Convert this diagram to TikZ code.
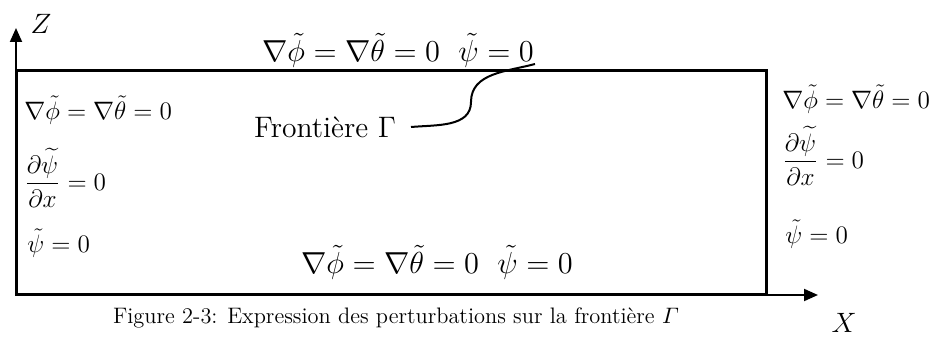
\documentclass[tikz,border=0pt]{standalone}
\usepackage{fix-cm}
\usepackage{amsmath}
\usepackage{fontspec}
\usetikzlibrary{arrows.meta}

\tikzset{
  border/.style={line width=1.5pt},
  axis/.style={line width=1pt, -{Triangle[length=7pt,width=6pt]}},
  bigeq/.style={font=\fontsize{15.2}{18}\selectfont},
  sideeq/.style={font=\fontsize{12.6}{15}\selectfont, anchor=west, inner sep=0pt},
  lbl/.style={font=\fontsize{14}{16}\selectfont}
}

\begin{document}
\begin{tikzpicture}[line cap=butt, line join=miter, >=Stealth, x=0.5pt,y=0.5pt]
  \useasboundingbox (0,0) rectangle (939,338);
  % domain
  \draw[border] (16,43) rectangle (766,267);
  \coordinate (O) at (16,43);
  \coordinate (xend) at (818,43);
  \coordinate (zend) at (16,310);
  \draw[axis] (766,43) -- (xend);
  \draw[axis] (16,267) -- (zend);
  \node[lbl] (zlab) at (41,314) {$Z$};
  \node[lbl] (xlab) at (844,15) {$X$};

  % conditions on top and bottom
  \node[bigeq] (top) at (398,288) {$\nabla\tilde{\phi} = \nabla\tilde{\theta} = 0\ \ \tilde{\psi} = 0$};
  \node[bigeq] (bot) at (437,76) {$\nabla\tilde{\phi} = \nabla\tilde{\theta} = 0\ \ \tilde{\psi} = 0$};

  % left side
  \node[sideeq] (l1) at (24,228) {$\nabla\tilde{\phi} = \nabla\tilde{\theta} = 0$};
  \node[sideeq] (l2) at (24,160) {$\dfrac{\partial\widetilde{\psi}}{\partial x} = 0$};
  \node[sideeq] (l3) at (27,95) {$\tilde{\psi} = 0$};

  % right side
  \node[sideeq] (r1) at (782,239) {$\nabla\tilde{\phi} = \nabla\tilde{\theta} = 0$};
  \node[sideeq] (r2) at (782,182) {$\dfrac{\partial\widetilde{\psi}}{\partial x} = 0$};
  \node[sideeq] (r3) at (785,104) {$\tilde{\psi} = 0$};

  % boundary label
  \node[font=\fontsize{14.8}{17}\selectfont, anchor=east] (gam) at (403,211) {Fronti\`ere $\Gamma$};
  \coordinate (gend) at (535,274);
  \draw[line width=1pt] (gam.east) ++(8,0) coordinate (gstart)
    to[out=5,in=-90] (471,236) to[out=90,in=195] (gend);

  \node[font=\fontsize{11.2}{13}\selectfont] (cap) at (396,20)
    {Figure 2-3: Expression des perturbations sur la fronti\`ere $\varGamma$};
\end{tikzpicture}
\end{document}
